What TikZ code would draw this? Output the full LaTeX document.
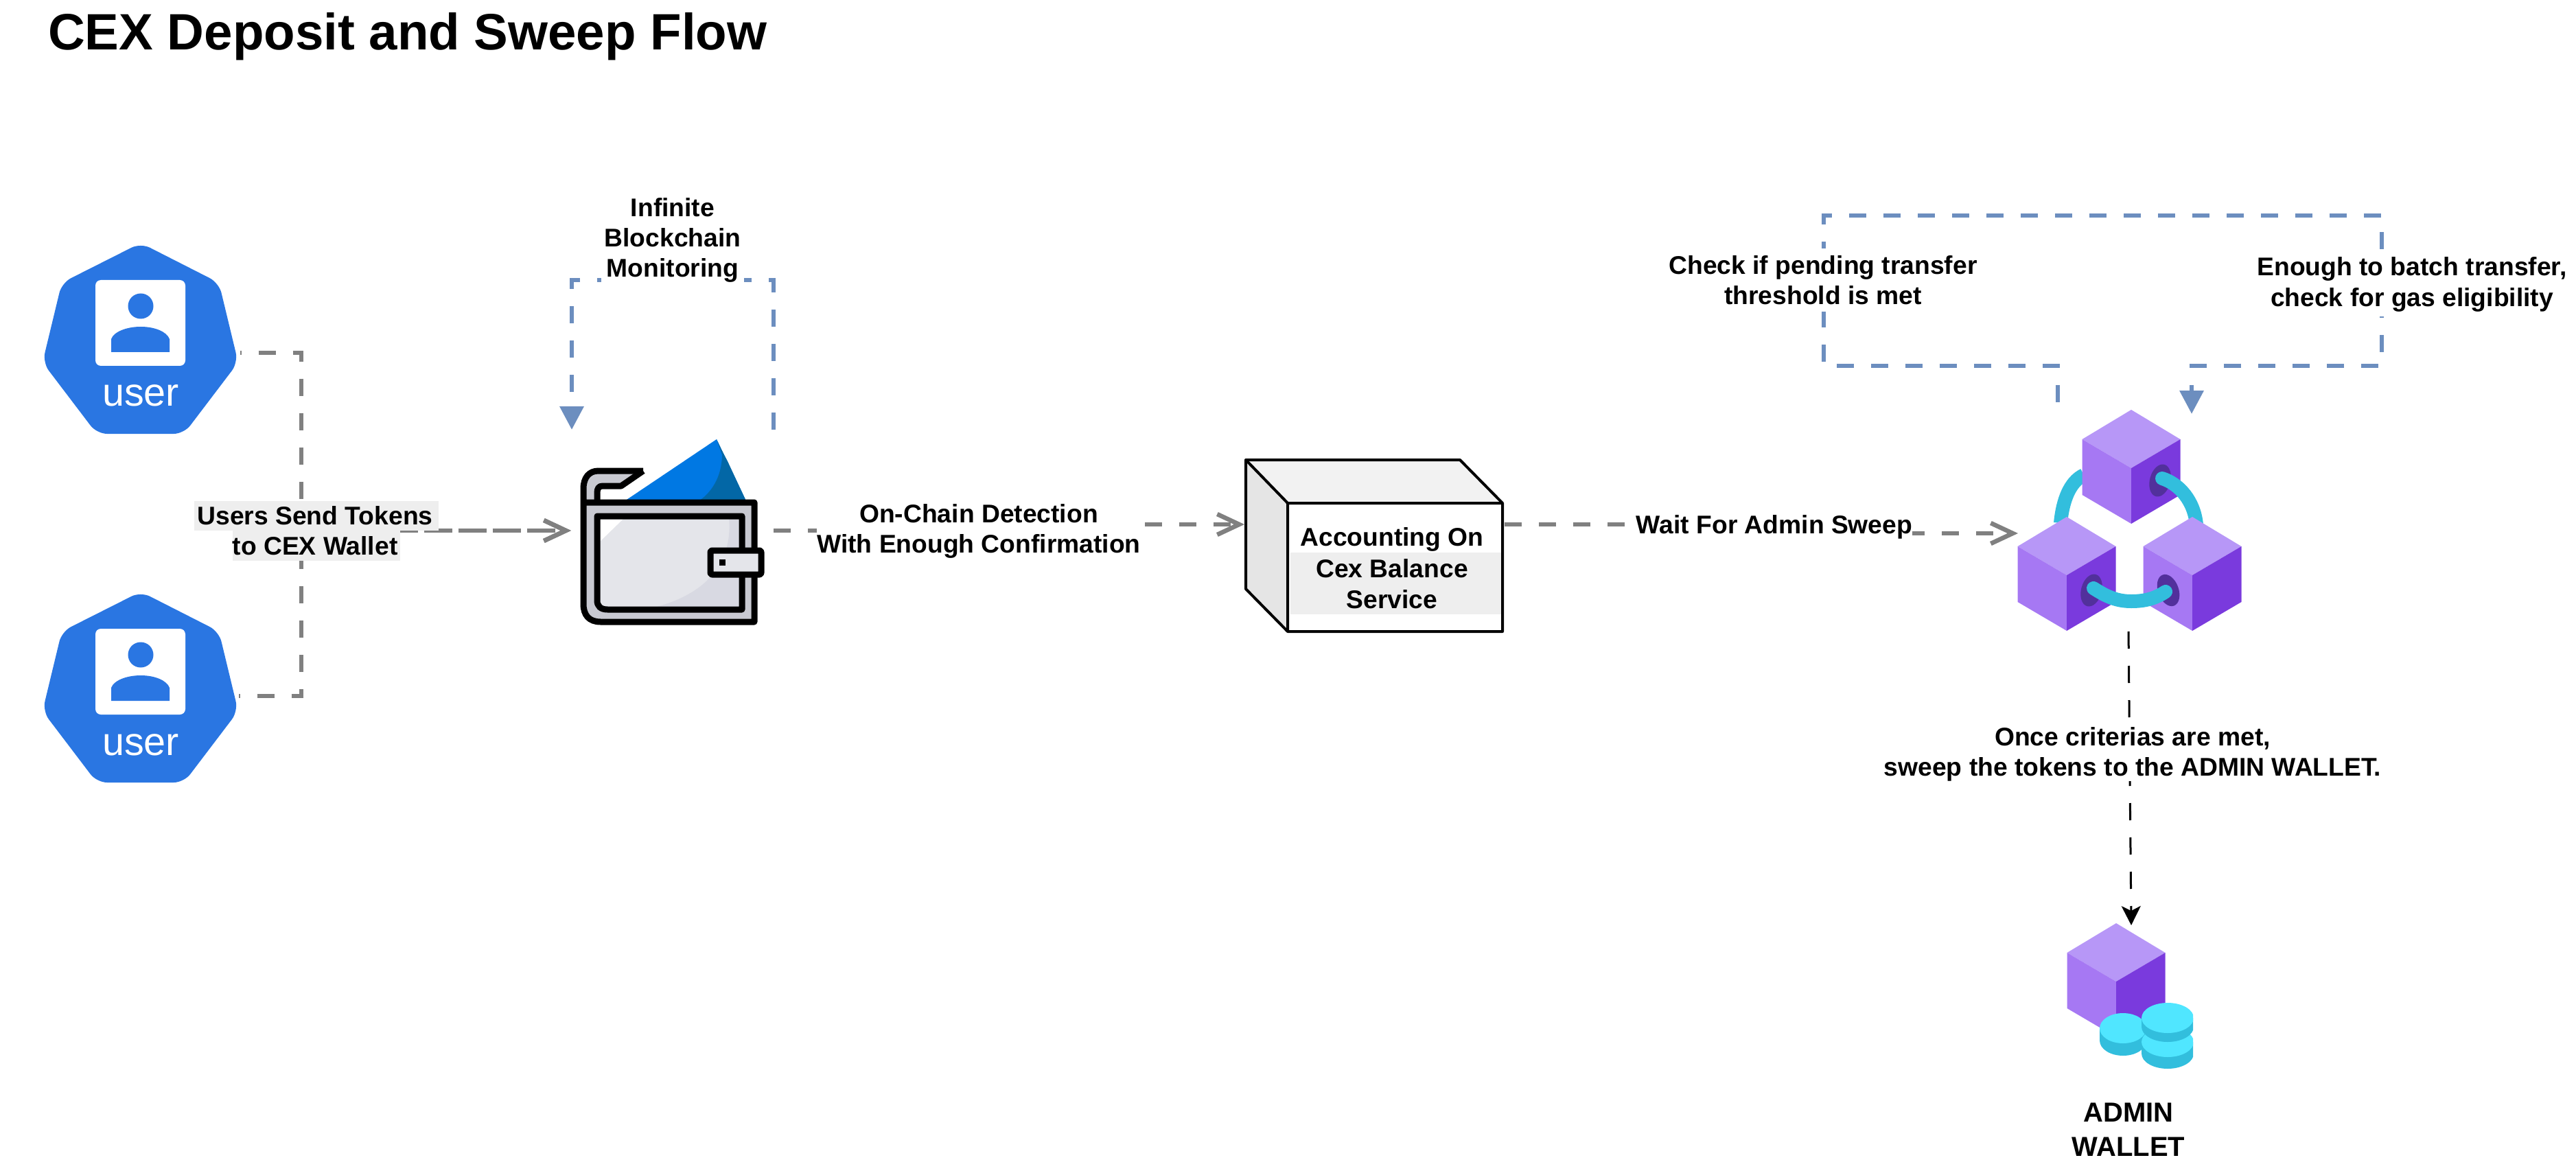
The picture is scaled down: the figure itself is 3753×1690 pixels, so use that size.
\documentclass[tikz,border=0pt]{standalone}
\usepackage{fontspec}
\setmainfont{Liberation Sans}
\usetikzlibrary{arrows.meta}
\definecolor{flowgray}{HTML}{808080}
\definecolor{loopblue}{HTML}{6C8EBF}
\definecolor{userblue}{HTML}{2A76E2}
\definecolor{lblbg}{HTML}{EEEEEE}
\definecolor{cubetop}{HTML}{B797F7}
\definecolor{cubeleft}{HTML}{A678F3}
\definecolor{cuberight}{HTML}{7A3ADD}
\definecolor{ringcyan}{HTML}{32BEDD}
\definecolor{coincyan}{HTML}{50E6FF}
\definecolor{holedark}{HTML}{52309C}
\definecolor{wgray}{HTML}{C8C9D1}
\definecolor{wlight}{HTML}{E4E5EA}
\definecolor{wshade}{HTML}{D8D9E2}
\definecolor{cardlight}{HTML}{0078E3}
\definecolor{carddark}{HTML}{0367A6}
\tikzset{
  grayflow/.style={draw=flowgray,line width=1.3pt,dash pattern=on 5pt off 5pt,
    -{Straight Barb[length=6.4pt,width=6pt,line width=1.3pt]}},
  blueflow/.style={draw=loopblue,line width=1.3pt,dash pattern=on 5pt off 5pt,
    -{Triangle[length=6.8pt,width=6.8pt]}},
  blackflow/.style={draw=black,line width=0.6pt,dash pattern=on 5pt off 5pt,
    -{Stealth[length=5.6pt,width=5.6pt,inset=1.4pt]}},
  lbl/.style={font=\fontsize{7.45pt}{8.8pt}\selectfont\bfseries,align=center,inner sep=0pt,text=black},
  whitelbl/.style={lbl,fill=white},
  ring/.style={draw=ringcyan,line width=4pt,line cap=round},
  blackst/.style={draw=black,line width=1.8pt,line join=round}
}
\newcommand{\usericon}[2]{%
  \begin{scope}[shift={(0,#2)}]
    \fill[userblue,rounded corners=3pt] (205,354) -- (319,412) -- (347,528) -- (268,632) -- (141,632) -- (62,528) -- (90,412) -- cycle;
    \fill[white,rounded corners=1.6pt] (139,408) rectangle (270,533);
    \fill[userblue] (205,446) circle[radius=3.7pt];
    \fill[userblue] (162,513) -- (162,494) .. controls (166,483) and (185,476) .. (205,476) .. controls (225,476) and (243,483) .. (247,494) -- (247,513) -- cycle;
    \node[font=\fontsize{11.5pt}{13pt}\selectfont,text=white,inner sep=0pt,anchor=base] (#1) at (205,592) {user};
  \end{scope}}
\newcommand{\isocube}[2]{%
  \begin{scope}[shift={(#1,#2)}]
    \fill[cubetop] (0,0) -- (71.5,43) -- (0,85) -- (-71.5,43) -- cycle;
    \fill[cubeleft] (-71.5,43) -- (0,85) -- (0,166) -- (-71.5,124) -- cycle;
    \fill[cuberight] (71.5,43) -- (0,85) -- (0,166) -- (71.5,124) -- cycle;
  \end{scope}}
\begin{document}
\begin{tikzpicture}[x=0.2pt,y=-0.2pt]
\useasboundingbox (0,0) rectangle (3753,1690);
% title
\node[font=\fontsize{14.9pt}{18pt}\selectfont\bfseries,inner sep=0pt,anchor=base west] (title) at (69,73) {CEX Deposit and Sweep Flow};

% named ends of the connectors
\coordinate (u1out) at (350,514);
\coordinate (u2out) at (348,1014);
\coordinate (junction) at (439,773);
\coordinate (walletin) at (832,773);
\coordinate (walletout) at (1127,773);
\coordinate (acctin) at (1813,764);
\coordinate (acctout) at (2192,764);
\coordinate (nodesin) at (2940,777);
\coordinate (loopstart) at (1127,626);
\coordinate (looptip) at (833,626);
\coordinate (checkstart) at (2998,586);
\coordinate (checktip) at (3193,603);
\coordinate (sweepstart) at (3101,920);
\coordinate (admintip) at (3105,1348);

% connectors
\draw[grayflow,dash phase=4.7pt] (u1out) -| (junction) |- (walletin);
\draw[grayflow,dash phase=4.7pt] (u2out) -| (junction) |- (walletin);
\draw[grayflow] (walletout) -- (1470,773) -- (1470,764) -- (acctin);
\draw[grayflow] (acctout) -- (2566,764) -- (2566,777) -- (nodesin);
\draw[blueflow] (loopstart) |- (833,408) -- (looptip);
\draw[blueflow] (checkstart) -- (2998,533) -- (2657,533) -- (2657,314) -- (3470,314) -- (3470,533) -- (3193,533) -- (checktip);
\draw[blackflow] (sweepstart) -- (admintip);

% users
\usericon{user1}{0}
\usericon{user2}{508}

% wallet
\fill[cardlight] (910,730) -- (1044,640) -- (1087,730) -- cycle;
\fill[carddark] (1052,657) .. controls (1053,690) and (1040,715) .. (1018,730) -- (1087,730) -- (1060,672) -- cycle;
\fill[carddark] (1044,640) -- (1087,730) -- (1076,730) -- cycle;
\path[fill=wgray] (850,732) -- (1099,732) -- (1099,906) -- (875,906) .. controls (858,906) and (850,896) .. (850,880) -- cycle;
\path[fill=wgray] (937,686) -- (872,686) .. controls (858,686) and (850,696) .. (850,712) -- (850,732) -- (870,732) -- (870,708) -- (905,708) -- cycle;
\draw[blackst] (937,686) -- (872,686) .. controls (858,686) and (850,696) .. (850,712) -- (850,880) .. controls (850,896) and (858,906) .. (875,906) -- (1099,906) -- (1099,732) -- (850,732);
\draw[blackst] (937,686) -- (905,708) -- (878,708) .. controls (872,708) and (870,712) .. (870,718) -- (870,732);
\path[fill=wlight] (870,752) -- (1081,752) -- (1081,888) -- (885,888) .. controls (875,888) and (870,883) .. (870,875) -- cycle;
\path[fill=white] (875,788) -- (908,756) -- (875,756) -- cycle;
\path[fill=wshade] (1062,755) .. controls (1066,800) and (1050,860) .. (953,885) -- (1078,885) -- (1078,755) -- cycle;
\draw[blackst] (870,752) -- (1081,752) -- (1081,888) -- (885,888) .. controls (875,888) and (870,883) .. (870,875) -- cycle;
\draw[blackst,fill=wlight,rounded corners=0.5pt] (1035,802) rectangle (1109,837);
\fill[black] (1048,815) rectangle (1057,824);

% accounting box
\fill[black!5] (1815,670) -- (2127,670) -- (2189,733) -- (1876,733) -- cycle;
\fill[black!10] (1815,670) -- (1876,733) -- (1876,920) -- (1815,858) -- cycle;
\fill[white] (1876,733) rectangle (2189,920);
\fill[lblbg] (1880,805) rectangle (2187,895);
\draw[black,line width=0.8pt,line join=round] (1815,670) -- (2127,670) -- (2189,733) -- (2189,920) -- (1876,920) -- (1815,858) -- cycle;
\draw[black,line width=0.8pt,line join=round] (1815,670) -- (1876,733) -- (2189,733) (1876,733) -- (1876,920);
\node[lbl,font=\fontsize{7.45pt}{9.1pt}\selectfont\bfseries] (acct) at (2028,828) {Accounting On\\Cex Balance\\Service};

% connector labels
\fill[lblbg] (283,730) rectangle (639,773);
\fill[lblbg] (339,773) rectangle (583,817);
\node[lbl] (usersend) at (459,773) {Users Send Tokens~\\to CEX Wallet};
\node[whitelbl] (onchain) at (1426,774) {On-Chain Detection\\With Enough Confirmation};
\node[whitelbl] (waitsweep) at (2585,768) {Wait For Admin Sweep};
\node[whitelbl,inner xsep=1pt] (infinite) at (980,350) {Infinite\\Blockchain\\Monitoring};
\node[whitelbl,minimum height=92*0.2pt] (pending) at (2656,408) {Check if pending transfer\\threshold is met};
\node[whitelbl,minimum height=95*0.2pt,font=\fontsize{7.45pt}{9pt}\selectfont\bfseries] (enough) at (3514,414) {Enough to batch transfer,\\check for gas eligibility};
\node[whitelbl] (criteria) at (3107,1099) {Once criterias are met,\\sweep the tokens to the ADMIN WALLET.};

% blockchain cluster
\draw[ring,line cap=butt] (3036,692) .. controls (3015,702) and (3005,730) .. (3002,762);
\isocube{3105}{597}
\fill[holedark,rotate around={-15:(3147,700)}] (3147,700) ellipse[x radius=15,y radius=24];
\draw[ring] (3150,697) .. controls (3175,705) and (3197,730) .. (3200,765);
\isocube{3011}{753}
\isocube{3194}{753}
\fill[holedark,rotate around={-15:(3047,860)}] (3047,860) ellipse[x radius=15,y radius=24];
\fill[holedark,rotate around={20:(3159,860)}] (3159,860) ellipse[x radius=15,y radius=24];
\draw[ring] (3050,857) .. controls (3070,870) and (3085,876) .. (3105,876) .. controls (3125,876) and (3140,872) .. (3155,862);

% admin wallet icon
\isocube{3083}{1345}
\begin{scope}
  \clip (3000,1340) rectangle (3195,1560);
  \fill[ringcyan] (3059,1498) -- (3059,1516) arc[start angle=180,end angle=0,x radius=34,y radius=22] -- (3127,1498) -- cycle;
  \fill[coincyan] (3093,1498) ellipse[x radius=34,y radius=22];
  \fill[ringcyan] (3120,1518) -- (3120,1535) arc[start angle=180,end angle=0,x radius=38,y radius=22] -- (3196,1518) -- cycle;
  \fill[coincyan] (3158,1518) ellipse[x radius=38,y radius=22];
  \fill[ringcyan] (3120,1483) -- (3120,1496) arc[start angle=180,end angle=0,x radius=38,y radius=22] -- (3196,1483) -- cycle;
  \fill[coincyan] (3158,1483) ellipse[x radius=38,y radius=22];
\end{scope}
\node[lbl,font=\fontsize{8pt}{10pt}\selectfont\bfseries] (admin) at (3101,1646) {ADMIN\\WALLET};
\end{tikzpicture}
\end{document}
